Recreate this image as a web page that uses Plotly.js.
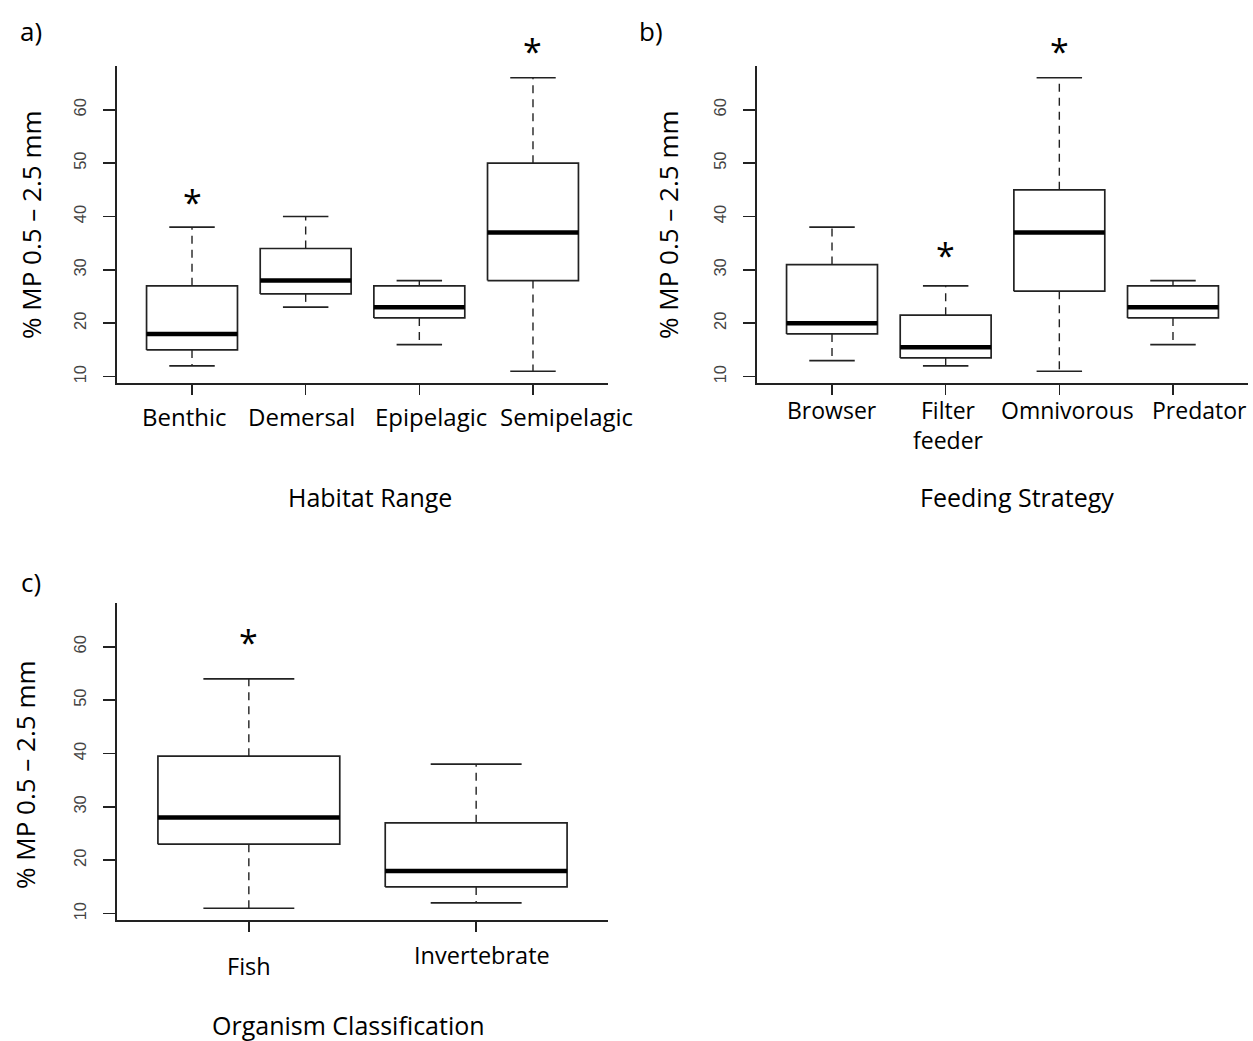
<!DOCTYPE html>
<html>
<head>
<meta charset="utf-8">
<script src="https://cdn.plot.ly/plotly-3.0.1.min.js"></script>
<style>html,body{margin:0;padding:0;background:#fff;}#chart{width:1253px;height:1041px;}</style>
</head>
<body>
<div id="chart"></div>
<script>
// ---------- DATA ----------
// Panel a) Habitat Range
const habitatCats = ['Benthic', 'Demersal', 'Epipelagic', 'Semipelagic'];
const habitatLow = [12, 23, 16, 11];
const habitatQ1 = [15, 25.5, 21, 28];
const habitatMed = [18, 28, 23, 37];
const habitatQ3 = [27, 34, 27, 50];
const habitatHigh = [38, 40, 28, 66];
const habitatStar = [43.5, null, null, 71.8];

// Panel b) Feeding Strategy
const feedingCats = ['Browser', 'Filter<br>feeder', 'Omnivorous', 'Predator'];
const feedingLow = [13, 12, 11, 16];
const feedingQ1 = [18, 13.5, 26, 21];
const feedingMed = [20, 15.5, 37, 23];
const feedingQ3 = [31, 21.5, 45, 27];
const feedingHigh = [38, 27, 66, 28];
const feedingStar = [null, 33.5, 71.8, null];

// Panel c) Organism Classification
const organismCats = ['Fish', 'Invertebrate'];
const organismLow = [11, 12];
const organismQ1 = [23, 15];
const organismMed = [28, 18];
const organismQ3 = [39.5, 27];
const organismHigh = [54, 38];
const organismStar = [61.7, null];

const yTickVals = [10, 20, 30, 40, 50, 60];
const yTitle = '% MP 0.5 \u2013 2.5 mm';

// ---------- STYLE ----------
const W = 1253, H = 1041;
const px = v => v / W;
const py = v => 1 - v / H;
const labelFont = 'Open Sans, Lato, sans-serif';
const BOXW = 0.4, CAPW = 0.2;

const traces = [];
const annotations = [];
function panel(ax, cats, low, q1, med, q3, high, star) {
  const xa = ax === 1 ? 'x' : 'x' + ax, ya = ax === 1 ? 'y' : 'y' + ax;
  const bx = [], by = [], wx = [], wy = [], cx = [], cy = [], mx = [], my = [];
  cats.forEach((c, i) => {
    const x = i + 1;
    bx.push(x - BOXW, x + BOXW, x + BOXW, x - BOXW, x - BOXW, null);
    by.push(q1[i], q1[i], q3[i], q3[i], q1[i], null);
    wx.push(x, x, null, x, x, null);
    wy.push(q3[i], high[i], null, q1[i], low[i], null);
    cx.push(x - CAPW, x + CAPW, null, x - CAPW, x + CAPW, null);
    cy.push(high[i], high[i], null, low[i], low[i], null);
    mx.push(x - BOXW, x + BOXW, null);
    my.push(med[i], med[i], null);
    if (star[i] !== null) {
      // significance star: text sits at the (invisible) arrow tail, anchored on the whisker top
      annotations.push({text: '*', xref: xa, yref: ya, x: x, y: high[i], axref: xa, ayref: ya, ax: x, ay: star[i],
        showarrow: true, arrowcolor: 'rgba(0,0,0,0)', arrowwidth: 0.1, arrowhead: 0, standoff: 0,
        xanchor: 'center', yanchor: 'middle', yshift: -4,
        font: {family: labelFont, size: 34, color: '#000'}});
    }
  });
  traces.push({x: wx, y: wy, xaxis: xa, yaxis: ya, mode: 'lines', line: {color: '#222', width: 1.4, dash: '8px,6px'}, hoverinfo: 'skip'});
  traces.push({x: cx, y: cy, xaxis: xa, yaxis: ya, mode: 'lines', line: {color: '#222', width: 1.7}, hoverinfo: 'skip'});
  traces.push({x: bx, y: by, xaxis: xa, yaxis: ya, mode: 'lines', fill: 'toself', fillcolor: '#fff', line: {color: '#222', width: 1.7}, hoverinfo: 'skip'});
  traces.push({x: mx, y: my, xaxis: xa, yaxis: ya, mode: 'lines', line: {color: '#000', width: 4.5}, hoverinfo: 'skip'});
}
panel(1, habitatCats, habitatLow, habitatQ1, habitatMed, habitatQ3, habitatHigh, habitatStar);
panel(2, feedingCats, feedingLow, feedingQ1, feedingMed, feedingQ3, feedingHigh, feedingStar);
panel(3, organismCats, organismLow, organismQ1, organismMed, organismQ3, organismHigh, organismStar);

function xAxis(n, domain, anchor) {
  const vals = Array.from({length: n}, (_, i) => i + 1);
  return {domain: domain, anchor: anchor, range: [0.5 - 0.04 * n, n + 0.5 + 0.04 * n], showgrid: false, zeroline: false,
    showline: true, linecolor: '#222', linewidth: 1.6, ticks: 'outside', ticklen: 10, tickwidth: 1.5, tickcolor: '#222',
    tickvals: vals, showticklabels: false, fixedrange: true};
}
function yAxis(domain, anchor) {
  return {domain: domain, anchor: anchor, range: [8.8, 68.2], showgrid: false, zeroline: false,
    showline: true, linecolor: '#222', linewidth: 1.6, ticks: 'outside', ticklen: 12, tickwidth: 1.5, tickcolor: '#222',
    tickvals: yTickVals, tickangle: -90, ticklabelstandoff: 11,
    tickfont: {family: 'Liberation Sans, Arial, sans-serif', size: 16.5, color: '#444'}, fixedrange: true};
}

function ann(text, x, y, size, opts) {
  annotations.push(Object.assign({text: text, xref: 'paper', yref: 'paper', x: px(x), y: py(y), showarrow: false,
    xanchor: 'center', yanchor: 'middle', font: {family: labelFont, size: size, color: '#000'}}, opts || {}));
}
// panel letters
ann('a)', 31, 31, 26);
ann('b)', 651, 31, 26);
ann('c)', 31, 582, 26);
// y titles
ann(yTitle, 31, 225, 26, {textangle: -90});
ann(yTitle, 668, 225, 26, {textangle: -90});
ann(yTitle, 25, 775, 26, {textangle: -90});
// x titles
ann('Habitat Range', 370, 497, 25);
ann('Feeding Strategy', 1017, 497, 25);
ann('Organism Classification', 349, 1025, 25);
// category labels (positioned on the data x of each axis, nudged as in the source figure)
const habXShift = [-8, -4, 12, 34];
habitatCats.forEach((c, i) => annotations.push({text: c, xref: 'x', yref: 'paper', x: i + 1, y: py(416), showarrow: false,
  xanchor: 'center', yanchor: 'middle', xshift: habXShift[i], font: {family: labelFont, size: 24, color: '#000'}}));
const feedXShift = [0, 3, 8, 27];
feedingCats.forEach((c, i) => annotations.push({text: c, xref: 'x2', yref: 'paper', x: i + 1, y: py(392), showarrow: false,
  xanchor: 'center', yanchor: 'top', xshift: feedXShift[i], font: {family: labelFont, size: 23, color: '#000'}}));
const orgY = [966, 955];
const orgXShift = [0, 6];
organismCats.forEach((c, i) => annotations.push({text: c, xref: 'x3', yref: 'paper', x: i + 1, y: py(orgY[i]), showarrow: false,
  xanchor: 'center', yanchor: 'middle', xshift: orgXShift[i], font: {family: labelFont, size: 23.5, color: '#000'}}));

const layout = {
  width: W, height: H, margin: {l: 0, r: 0, t: 0, b: 0}, paper_bgcolor: '#fff', plot_bgcolor: 'rgba(0,0,0,0)',
  showlegend: false,
  xaxis: xAxis(4, [px(117), px(608)], 'y'),
  yaxis: yAxis([py(383), py(66)], 'x'),
  xaxis2: xAxis(4, [px(757), px(1248)], 'y2'),
  yaxis2: yAxis([py(383), py(66)], 'x2'),
  xaxis3: xAxis(2, [px(117), px(608)], 'y3'),
  yaxis3: yAxis([py(920), py(603)], 'x3'),
  annotations: annotations
};
Plotly.newPlot('chart', traces, layout, {staticPlot: true, displayModeBar: false});
</script>
</body>
</html>
